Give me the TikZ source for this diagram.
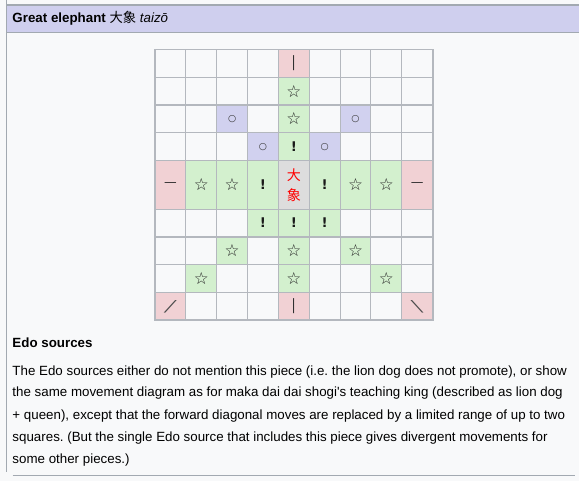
\documentclass[tikz,border=0pt]{standalone}
\usepackage{fontspec}
\setmainfont{Liberation Sans}
\newfontfamily\cjk{Noto Sans CJK JP}
\newfontfamily\symfont{DejaVu Sans}
\frenchspacing

\definecolor{pagebg}{HTML}{F8F9FA}
\definecolor{rulegrey}{HTML}{A2A9B1}
\definecolor{gridgrey}{HTML}{B4B8BE}
\definecolor{headbg}{HTML}{CFCFEE}
\definecolor{rangecol}{HTML}{F1D1D4}
\definecolor{stepcol}{HTML}{D3F0CE}
\definecolor{jumpcol}{HTML}{D1D1EF}
\definecolor{piececol}{HTML}{DDDDDD}

\tikzset{every picture/.style={line width=0.75pt}}
\tikzset{
  rangecell/.style={fill=rangecol},
  stepcell/.style={fill=stepcol},
  jumpcell/.style={fill=jumpcol},
  piececell/.style={fill=piececol},
  movesym/.style={inner sep=0pt, text=black!85, font=\symfont\fontsize{9.5}{9.5}\selectfont},
  starsym/.style={inner sep=0pt, text=black!85, font=\symfont\fontsize{12.5}{12.5}\selectfont},
  bangsym/.style={inner sep=0pt, text=black!90, font=\symfont\bfseries\fontsize{10}{10}\selectfont},
  ringsym/.style={inner sep=0pt, text=black!80, font=\symfont\fontsize{7}{7}\selectfont},
  bodytext/.style={anchor=base west, inner sep=0pt, font=\fontsize{10}{10}\selectfont},
}

\begin{document}
\begin{tikzpicture}[x=0.75pt,y=0.75pt,yscale=-1,xscale=1]
\path[use as bounding box, fill=pagebg] (0,0) rectangle (579,481);

%Shape: Header band
\fill [headbg] (7,5) rectangle (579,32) ;
\draw [rulegrey, line width=1.1pt] (7,5) -- (579,5) (7,32.3) -- (579,32.3) ;
%Shape: Left rule
\draw [rulegrey, line width=1.1pt] (6.5,0) -- (6.5,472) ;
%Shape: Bottom rule
\draw [rulegrey, line width=1.1pt] (12.5,475.5) -- (575,475.5) ;

% Text Node
\node (title) [bodytext] at (12,23) {\bfseries Great elephant {\cjk\mdseries 大象} \mdseries\itshape taizō};

%Shape: Coloured squares, ranging moves
\fill [rangecell] (278.4,49.5) rectangle (309.25,77.25) ;
\fill [rangecell] (155,160.5) rectangle (185.85,209.25) ;
\fill [rangecell] (401.8,160.5) rectangle (432.65,209.25) ;
\fill [rangecell] (155,292.5) rectangle (185.85,320.25) ;
\fill [rangecell] (278.4,292.5) rectangle (309.25,320.25) ;
\fill [rangecell] (401.8,292.5) rectangle (432.65,320.25) ;
%Shape: Coloured squares, step moves
\fill [stepcell] (278.4,77.25) rectangle (309.25,160.5) ;
\fill [stepcell] (185.85,160.5) rectangle (278.4,209.25) ;
\fill [stepcell] (309.25,160.5) rectangle (401.8,209.25) ;
\fill [stepcell] (247.55,209.25) rectangle (340.1,237) ;
\fill [stepcell] (216.7,237) rectangle (247.55,264.75) ;
\fill [stepcell] (278.4,237) rectangle (309.25,292.5) ;
\fill [stepcell] (340.1,237) rectangle (370.95,264.75) ;
\fill [stepcell] (185.85,264.75) rectangle (216.7,292.5) ;
\fill [stepcell] (370.95,264.75) rectangle (401.8,292.5) ;
%Shape: Coloured squares, jumps
\fill [jumpcell] (216.7,105) rectangle (247.55,132.75) ;
\fill [jumpcell] (340.1,105) rectangle (370.95,132.75) ;
\fill [jumpcell] (247.55,132.75) rectangle (278.4,160.5) ;
\fill [jumpcell] (309.25,132.75) rectangle (340.1,160.5) ;
%Shape: Piece square
\fill [piececell] (278.4,160.5) rectangle (309.25,209.25) ;

%Shape: Grid
\draw [gridgrey] (155,77.25) -- (432.65,77.25) (155,132.75) -- (432.65,132.75)
  (155,160.5) -- (432.65,160.5) (155,209.25) -- (432.65,209.25)
  (155,264.75) -- (432.65,264.75) (155,292.5) -- (432.65,292.5) ;
\draw [gridgrey] (185.85,49.5) -- (185.85,320.25) (216.7,49.5) -- (216.7,320.25)
  (247.55,49.5) -- (247.55,320.25) (309.25,49.5) -- (309.25,320.25)
  (340.1,49.5) -- (340.1,320.25) (370.95,49.5) -- (370.95,320.25)
  (401.8,49.5) -- (401.8,320.25) ;
\draw [gridgrey, line width=1.1pt] (155,105) -- (432.65,105) (155,237) -- (432.65,237)
  (278.4,49.5) -- (278.4,320.25) ;
\draw [gridgrey, line width=1.3pt] (155,49.5) rectangle (432.65,320.25) ;

% Text Node
\node (r1c5) [movesym] at (293.8,63.4) {│};
\node (r2c5) [starsym] at (293.8,91.1) {☆};
\node (r3c3) [ringsym] at (232.1,118.9) {○};
\node (r3c5) [starsym] at (293.8,118.9) {☆};
\node (r3c7) [ringsym] at (355.5,118.9) {○};
\node (r4c4) [ringsym] at (263,146.6) {○};
\node (r4c5) [bangsym] at (293.8,146.6) {!};
\node (r4c6) [ringsym] at (324.7,146.6) {○};
\node (r5c1) [movesym] at (170.4,184.9) {—};
\node (r5c2) [starsym] at (201.3,184.9) {☆};
\node (r5c3) [starsym] at (232.1,184.9) {☆};
\node (r5c4) [bangsym] at (263,184.9) {!};
\node (piece) [inner sep=0pt, text=red, align=center, font=\cjk\fontsize{10.5}{15}\selectfont] at (293.8,185.5) {大\\象};
\node (r5c6) [bangsym] at (324.7,184.9) {!};
\node (r5c7) [starsym] at (355.5,184.9) {☆};
\node (r5c8) [starsym] at (386.4,184.9) {☆};
\node (r5c9) [movesym] at (417.2,184.9) {—};
\node (r6c4) [bangsym] at (263,223.1) {!};
\node (r6c5) [bangsym] at (293.8,223.1) {!};
\node (r6c6) [bangsym] at (324.7,223.1) {!};
\node (r7c3) [starsym] at (232.1,250.9) {☆};
\node (r7c5) [starsym] at (293.8,250.9) {☆};
\node (r7c7) [starsym] at (355.5,250.9) {☆};
\node (r8c2) [starsym] at (201.3,278.6) {☆};
\node (r8c5) [starsym] at (293.8,278.6) {☆};
\node (r8c8) [starsym] at (386.4,278.6) {☆};
\node (r9c1) [movesym, xscale=1.5, yscale=0.85, text=black!70] at (170.4,306.4) {╱};
\node (r9c5) [movesym] at (293.8,306.4) {│};
\node (r9c9) [movesym, xscale=1.5, yscale=0.85, text=black!70] at (417.2,306.4) {╲};

% Text Node
\node (edohead) [bodytext] at (12,348) {\bfseries Edo sources};
\node (line1) [bodytext] at (12,375) {The Edo sources either do not mention this piece (i.e. the lion dog does not promote), or show};
\node (line2) [bodytext] at (12,397) {the same movement diagram as for maka dai dai shogi\textquotesingle s teaching king (described as lion dog};
\node (line3) [bodytext] at (12,419) {+ queen), except that the forward diagonal moves are replaced by a limited range of up to two};
\node (line4) [bodytext] at (12,441) {squares. (But the single Edo source that includes this piece gives divergent movements for};
\node (line5) [bodytext] at (12,463) {some other pieces.)};

\end{tikzpicture}
\end{document}
